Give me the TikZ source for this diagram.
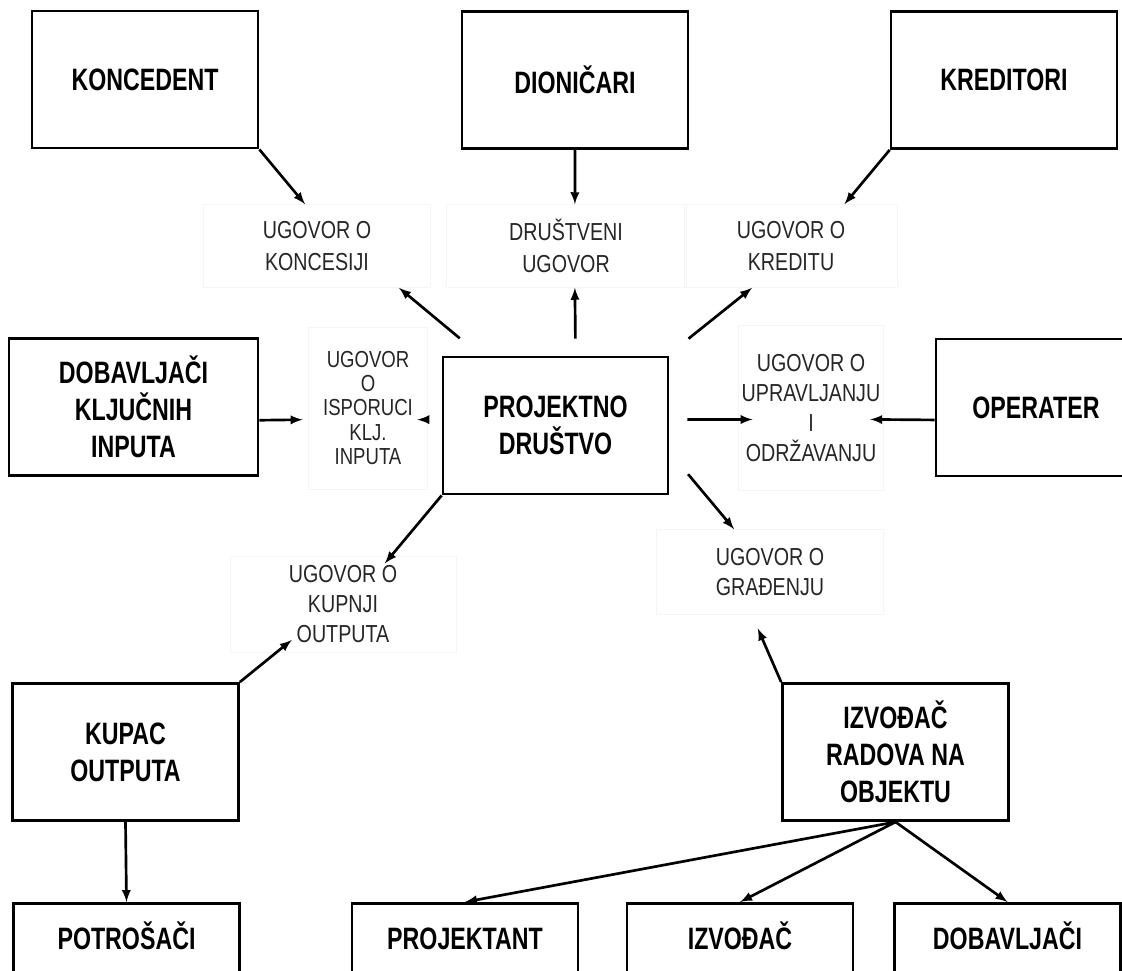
\documentclass[tikz,border=0pt]{standalone}
\usepackage{fontspec}
\setmainfont{Liberation Sans}
\newfontfamily\partyfont{Liberation Sans}[FakeStretch=0.75]
\newfontfamily\dealfont{Liberation Sans}[FakeStretch=0.8]
\usetikzlibrary{arrows}

\begin{document}
\begin{tikzpicture}[x=0.025cm,y=-0.025cm]

	\tikzset{PartyStyle/.style = {draw, line width=1.9pt,
			minimum width=5.65cm, minimum height=3.43cm, align=center,
			font=\partyfont\bfseries\fontsize{22}{26.5}\selectfont}}
	\tikzset{BottomStyle/.style = {PartyStyle, anchor=north,
			inner ysep=0.5cm, text height=0.65cm, text depth=2cm}}
	\tikzset{DealStyle/.style = {draw=black!4, text=black!85, align=center,
			inner sep=0pt, font=\dealfont\fontsize{17.5}{22.7}\selectfont}}
	\tikzset{EdgeStyle/.style = {line width=1.9pt, -latex}}

	\clip (0,0) rectangle (1122,971);

	% ugovorne strane
	\node[PartyStyle](koncedent) at (145,79.5) {KONCEDENT};
	\node[PartyStyle](dionicari) at (575,80) {DIONIČARI};
	\node[PartyStyle](kreditori) at (1004,80) {KREDITORI};
	\node[PartyStyle, minimum width=6.225cm](dobavljaci) at (133.5,407) {DOBAVLJAČI\\KLJUČNIH\\INPUTA};
	\node[PartyStyle, minimum width=5.625cm](pd) at (555.5,425.5) {PROJEKTNO\\DRUŠTVO};
	\node[PartyStyle, minimum width=5cm](operater) at (1036,407.5) {OPERATER};
	\node[PartyStyle](kupac) at (125.5,752) {KUPAC\\OUTPUTA};
	\node[PartyStyle](izvodac) at (895.5,752) {IZVOĐAČ\\RADOVA NA\\OBJEKTU};
	\node[BottomStyle](potrosaci) at (126.5,902) {POTROŠAČI};
	\node[BottomStyle](projektant) at (465,902) {PROJEKTANT};
	\node[BottomStyle](podizvodac) at (740,902) {IZVOĐAČ};
	\node[BottomStyle](dobavljaciB) at (1007.5,902) {DOBAVLJAČI};

	% ugovori
	\node[DealStyle, minimum width=5.675cm, minimum height=2.075cm](ugkon) at (317,246) {UGOVOR O\\KONCESIJI};
	\node[DealStyle, minimum width=6cm, minimum height=2.075cm](ugdru) at (566,246) {DRUŠTVENI\\UGOVOR};
	\node[DealStyle, minimum width=5.325cm, minimum height=2.075cm](ugkre) at (791,246) {UGOVOR O\\KREDITU};
	\node[DealStyle, minimum width=2.975cm, minimum height=4.05cm,
		font=\dealfont\fontsize{16.5}{17.4}\selectfont](ugisp) at (368,408) {UGOVOR\\O\\ISPORUCI\\KLJ.\\INPUTA};
	\node[DealStyle, minimum width=3.625cm, minimum height=4.125cm,
		font=\dealfont\fontsize{17.5}{21.3}\selectfont](ugupr) at (811,408) {UGOVOR O\\UPRAVLJANJU\\I\\ODRŽAVANJU};
	\node[DealStyle, minimum width=5.65cm, minimum height=2.4cm,
		font=\dealfont\fontsize{17.5}{21.3}\selectfont](ugkup) at (343,604) {UGOVOR O\\KUPNJI\\OUTPUTA};
	\node[DealStyle, minimum width=5.675cm, minimum height=2.125cm,
		font=\dealfont\fontsize{17.5}{21.3}\selectfont](uggra) at (770,572) {UGOVOR O\\GRAĐENJU};

	% strane prema ugovorima
	\draw[EdgeStyle](koncedent.south east) -- (ugkon.106);
	\draw[EdgeStyle](dionicari.south) -- (ugdru.78);
	\draw[EdgeStyle](kreditori.south west) -- (ugkre.38);
	\draw[EdgeStyle, shorten >=0.14cm](dobavljaci.-6) -- (ugisp.191);
	\draw[EdgeStyle, shorten >=-0.34cm](operater.187) -- (ugupr.-9);
	\draw[EdgeStyle, shorten >=-0.49cm](kupac.north east) -- (ugkup.216);
	\draw[EdgeStyle, shorten >=0.37cm](izvodac.north west) -- (uggra.-113);

	% projektno drustvo prema ugovorima
	\draw[EdgeStyle, shorten <=0.675cm](pd.137) -- (ugkon.-27);
	\draw[EdgeStyle, shorten <=0.425cm](pd.74) -- (ugdru.-78);
	\draw[EdgeStyle, shorten <=0.675cm](pd.32) -- (ugkre.-133);
	\draw[EdgeStyle, shorten <=0.5cm, shorten >=-0.26cm](pd.177) -- (ugisp.-11);
	\draw[EdgeStyle, shorten <=0.45cm, shorten >=-0.36cm](pd.3) -- (ugupr.189);
	\draw[EdgeStyle, shorten >=-0.25cm](pd.south west) -- (ugkup.45);
	\draw[EdgeStyle, shorten <=0.73cm](pd.-13) -- (uggra.130);

	% donji red
	\draw[EdgeStyle](kupac.south) -- (potrosaci.north);
	\draw[EdgeStyle](izvodac.south) -- (projektant.north);
	\draw[EdgeStyle](izvodac.south) -- (podizvodac.north);
	\draw[EdgeStyle](izvodac.south) -- (dobavljaciB.north);

\end{tikzpicture}
\end{document}
